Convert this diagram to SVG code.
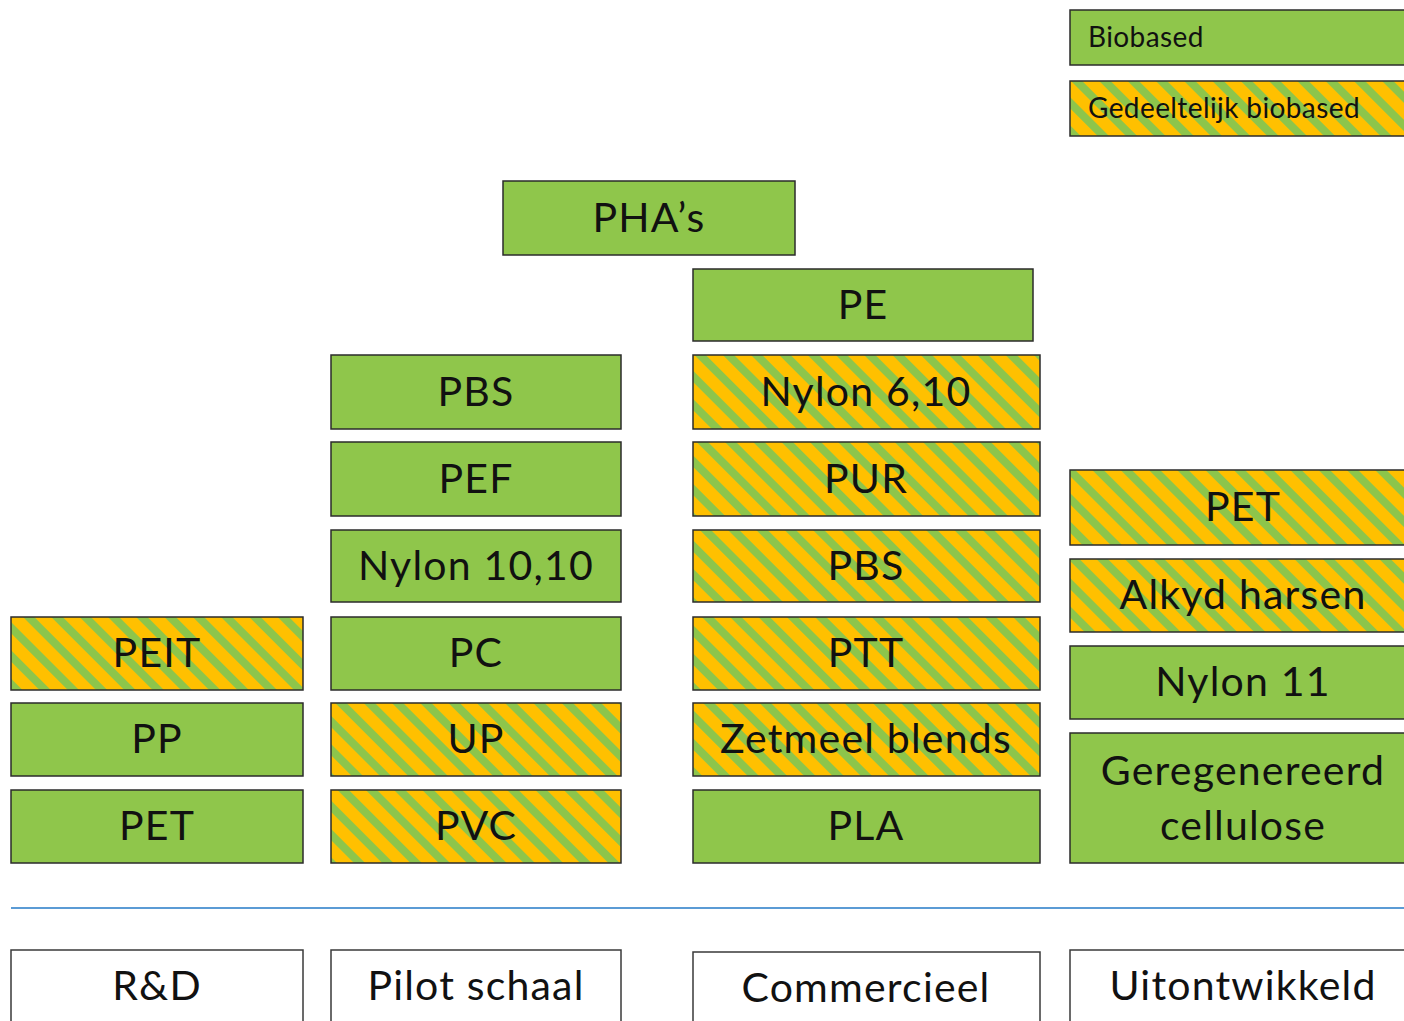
<svg xmlns="http://www.w3.org/2000/svg" width="1404" height="1021" viewBox="0 0 1404 1021">
<defs>
<pattern id="stripes" patternUnits="userSpaceOnUse" width="20" height="20" patternTransform="rotate(-45)">
<rect x="0" y="0" width="20" height="20" fill="#FFC000"/>
<rect x="0" y="0" width="8" height="20" fill="#8DC54B"/>
</pattern>
</defs>
<style>
.bio{fill:#8FC64B;stroke:#2b2b2b;stroke-width:1.5}
.part{fill:url(#stripes);stroke:#2b2b2b;stroke-width:1.5}
.stage{fill:#ffffff;stroke:#3a3a3a;stroke-width:1.5}
text{font-family:Lato,"Open Sans",sans-serif;fill:#111;text-anchor:middle}
.t{font-size:41px;letter-spacing:1.2px}
.lg{font-size:28px;letter-spacing:0.4px;text-anchor:start}
</style>
<rect width="1404" height="1021" fill="#ffffff"/>
<g id="legend-biobased"><rect class="bio" x="1070" y="10" width="345" height="55"/><text class="lg" x="1088" y="47">Biobased</text></g>
<g id="legend-partial"><rect class="part" x="1070" y="81" width="345" height="55"/><text class="lg" x="1088" y="118">Gedeeltelijk biobased</text></g>

<g id="pha"><rect class="bio" x="503" y="181" width="292" height="74"/><text class="t" x="649" y="232">PHA’s</text></g>
<g id="pe"><rect class="bio" x="693" y="269" width="340" height="72"/><text class="t" x="863" y="319">PE</text></g>

<g id="peit"><rect class="part" x="11" y="617" width="292" height="73"/><text class="t" x="157" y="667">PEIT</text></g>
<g id="pp"><rect class="bio" x="11" y="703" width="292" height="73"/><text class="t" x="157" y="753">PP</text></g>
<g id="pet1"><rect class="bio" x="11" y="790" width="292" height="73"/><text class="t" x="157" y="840">PET</text></g>

<g id="pbs1"><rect class="bio" x="331" y="355" width="290" height="74"/><text class="t" x="476" y="406">PBS</text></g>
<g id="pef"><rect class="bio" x="331" y="442" width="290" height="74"/><text class="t" x="476" y="493">PEF</text></g>
<g id="nylon1010"><rect class="bio" x="331" y="530" width="290" height="72"/><text class="t" x="476" y="580">Nylon 10,10</text></g>
<g id="pc"><rect class="bio" x="331" y="617" width="290" height="73"/><text class="t" x="476" y="667">PC</text></g>
<g id="up"><rect class="part" x="331" y="703" width="290" height="73"/><text class="t" x="476" y="753">UP</text></g>
<g id="pvc"><rect class="part" x="331" y="790" width="290" height="73"/><text class="t" x="476" y="840">PVC</text></g>

<g id="nylon610"><rect class="part" x="693" y="355" width="347" height="74"/><text class="t" x="866" y="406">Nylon 6,10</text></g>
<g id="pur"><rect class="part" x="693" y="442" width="347" height="74"/><text class="t" x="866" y="493">PUR</text></g>
<g id="pbs2"><rect class="part" x="693" y="530" width="347" height="72"/><text class="t" x="866" y="580">PBS</text></g>
<g id="ptt"><rect class="part" x="693" y="617" width="347" height="73"/><text class="t" x="866" y="667">PTT</text></g>
<g id="zetmeel"><rect class="part" x="693" y="703" width="347" height="73"/><text class="t" x="866" y="753">Zetmeel blends</text></g>
<g id="pla"><rect class="bio" x="693" y="790" width="347" height="73"/><text class="t" x="866" y="840">PLA</text></g>

<g id="pet2"><rect class="part" x="1070" y="470" width="345" height="75"/><text class="t" x="1243" y="521">PET</text></g>
<g id="alkyd"><rect class="part" x="1070" y="559" width="345" height="73"/><text class="t" x="1243" y="609">Alkyd harsen</text></g>
<g id="nylon11"><rect class="bio" x="1070" y="646" width="345" height="73"/><text class="t" x="1243" y="696">Nylon 11</text></g>
<g id="cellulose"><rect class="bio" x="1070" y="733" width="345" height="130"/><text class="t" x="1243" y="785">Geregenereerd</text><text class="t" x="1243" y="840">cellulose</text></g>

<g id="connectors"><line x1="11" y1="908" x2="1404" y2="908" stroke="#5B9BD5" stroke-width="2"/></g>

<g id="rd"><rect class="stage" x="11" y="950" width="292" height="90"/><text class="t" x="157" y="1000">R&amp;D</text></g>
<g id="pilot"><rect class="stage" x="331" y="950" width="290" height="90"/><text class="t" x="476" y="1000">Pilot schaal</text></g>
<g id="commercieel"><rect class="stage" x="693" y="952" width="347" height="90"/><text class="t" x="866" y="1002">Commercieel</text></g>
<g id="uitontwikkeld"><rect class="stage" x="1070" y="950" width="345" height="90"/><text class="t" x="1243" y="1000">Uitontwikkeld</text></g>
</svg>
